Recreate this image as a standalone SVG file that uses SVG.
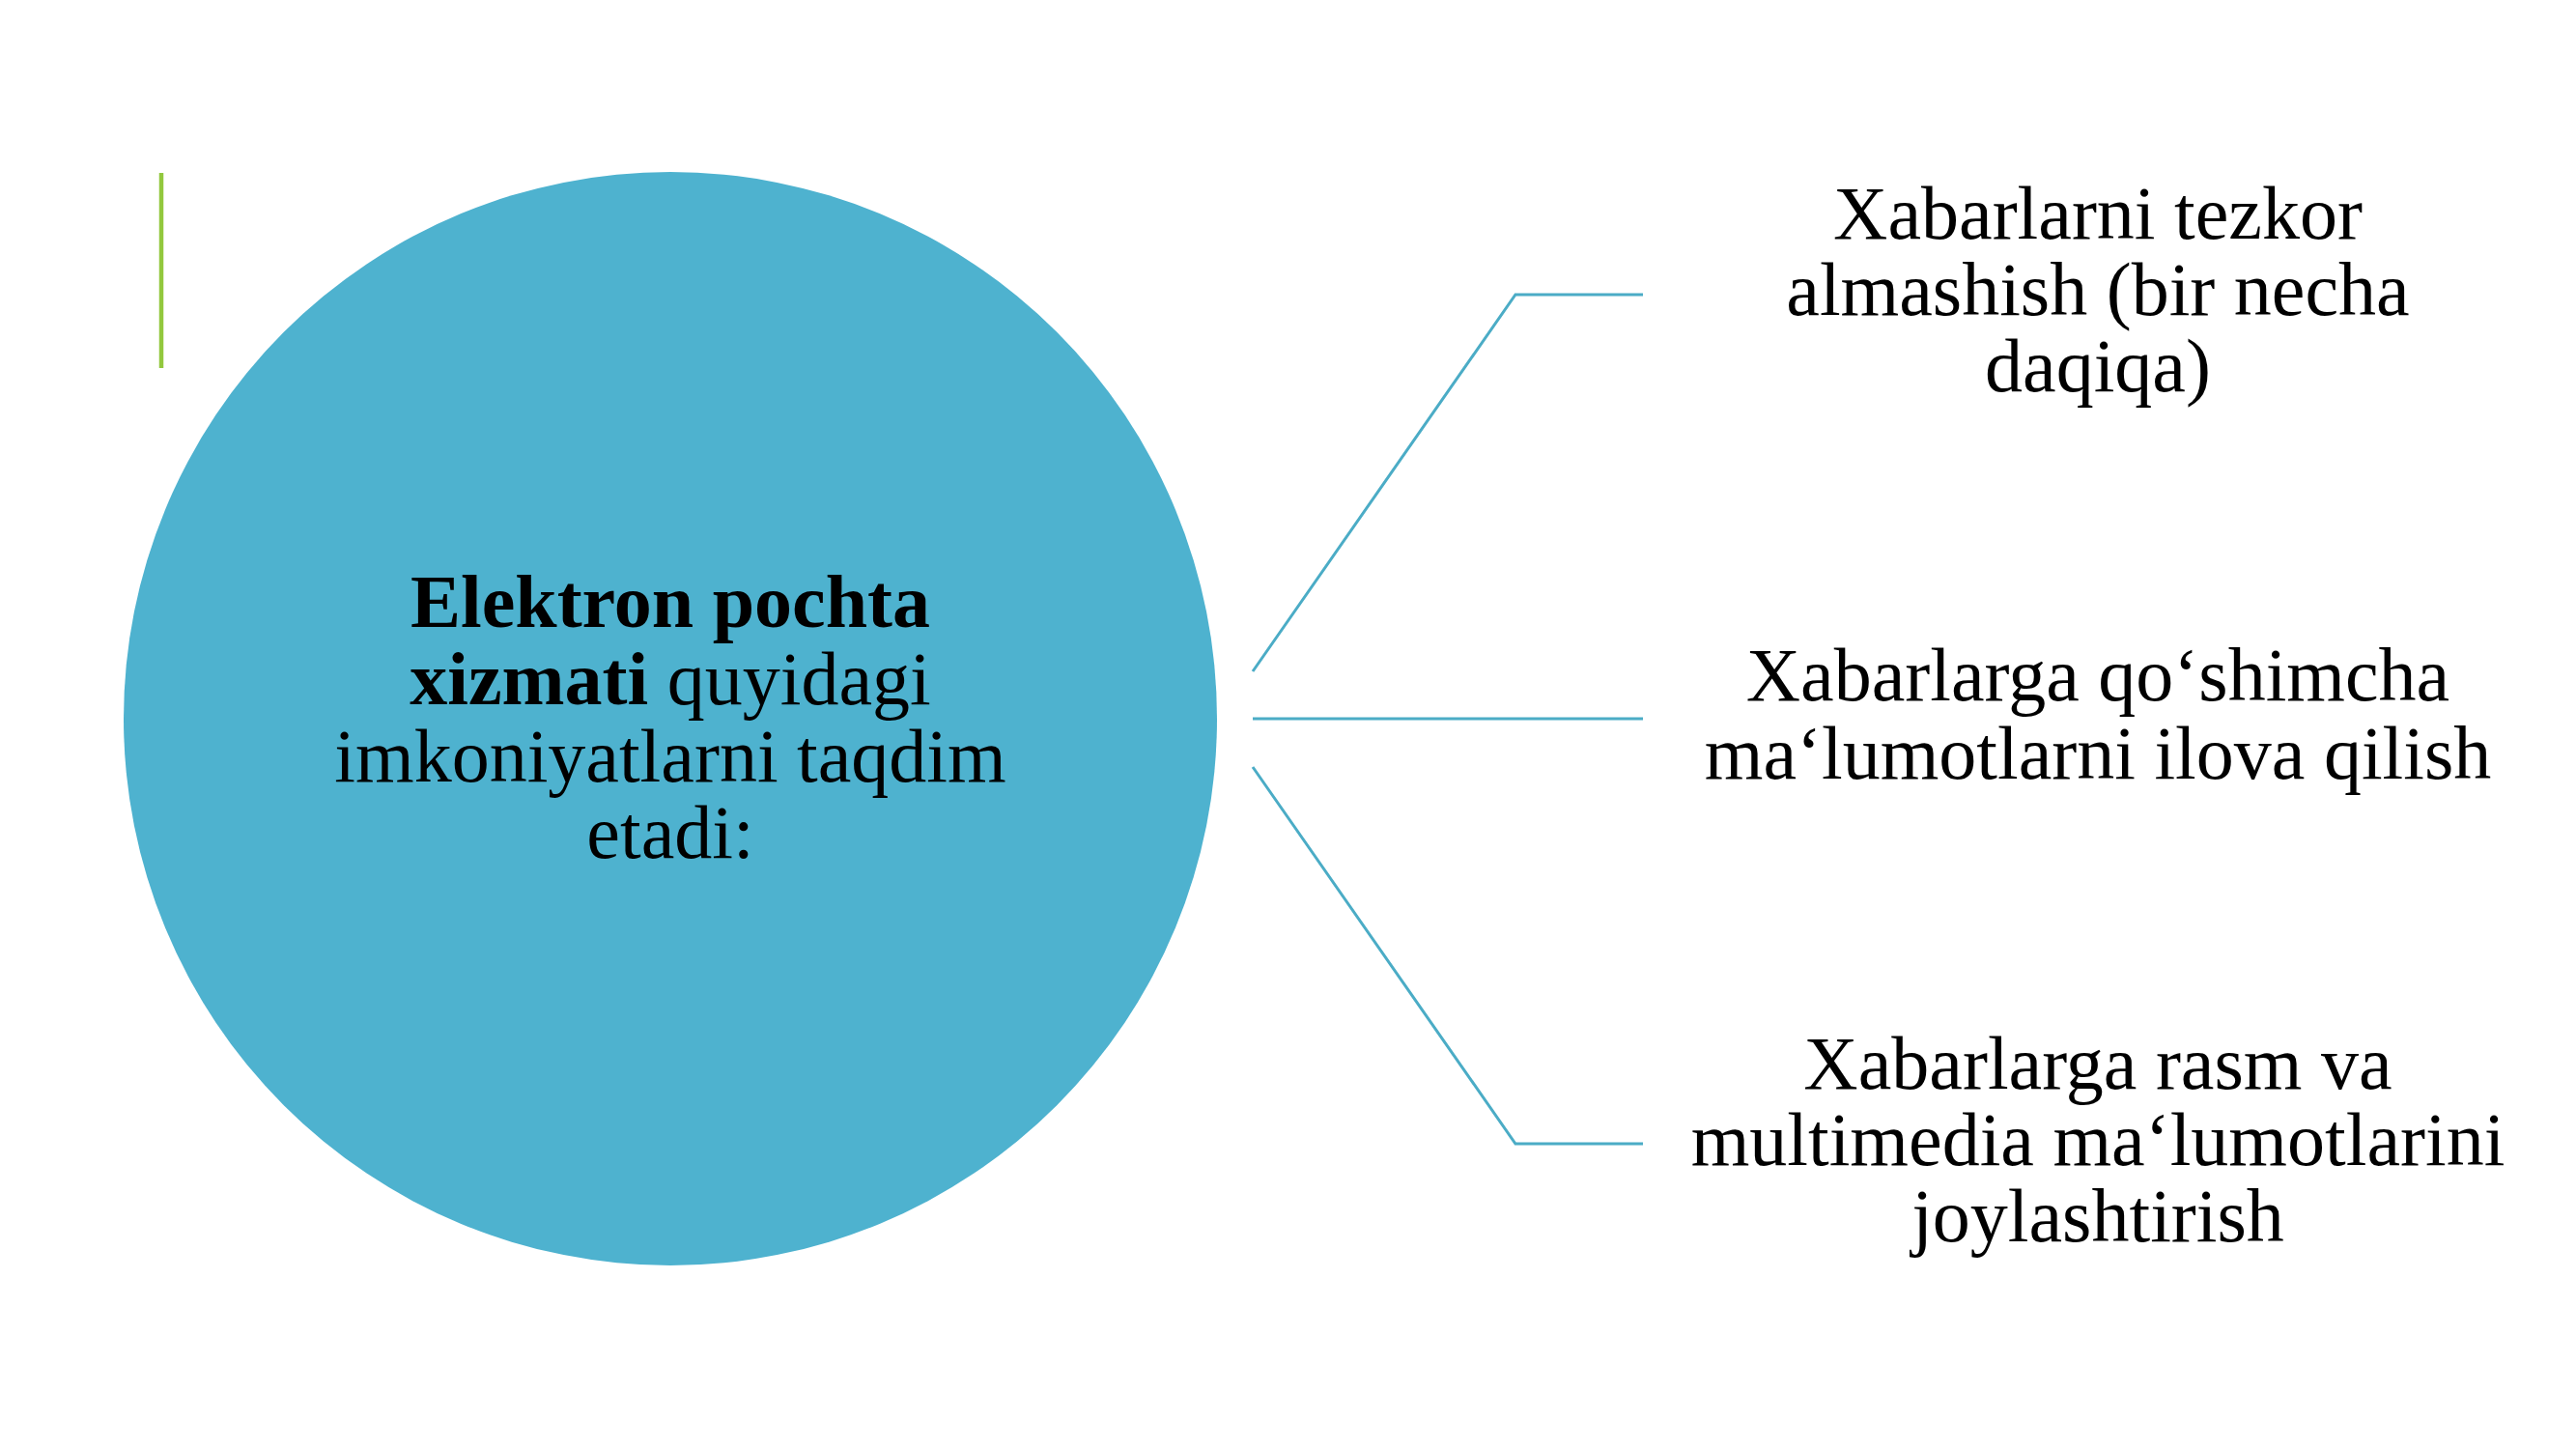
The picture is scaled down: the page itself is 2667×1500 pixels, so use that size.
<svg xmlns="http://www.w3.org/2000/svg" width="2667" height="1500" viewBox="0 0 2667 1500">
<style>
.t{font-family:"Liberation Serif","Times New Roman",serif;font-size:78px;fill:#000;text-anchor:middle}
.b{font-weight:bold}
.c{fill:none;stroke:#4bacc6;stroke-width:3}
</style>
<rect width="2667" height="1500" fill="#fff"/>
<line x1="167" y1="179" x2="167" y2="381" stroke="#92c83e" stroke-width="4.5"/>
<g id="center">
<circle cx="694" cy="744" r="566" fill="#4eb2cf"/>
<text class="t"><tspan class="b" x="694" y="649">Elektron pochta</tspan><tspan x="694" y="729"><tspan class="b">xizmati</tspan> quyidagi</tspan><tspan x="694" y="809">imkoniyatlarni taqdim</tspan><tspan x="694" y="888">etadi:</tspan></text>
</g>
<g id="connectors">
<path class="c" d="M1297,695 L1569,305 L1701,305"/>
<path class="c" d="M1297,744 L1701,744"/>
<path class="c" d="M1297,794 L1569,1184 L1701,1184"/>
</g>
<g id="item1">
<text class="t"><tspan x="2172" y="247">Xabarlarni tezkor</tspan><tspan x="2172" y="326">almashish (bir necha</tspan><tspan x="2172" y="405">daqiqa)</tspan></text>
</g>
<g id="item2">
<text class="t"><tspan x="2172" y="725">Xabarlarga qo‘shimcha</tspan><tspan x="2172" y="806">ma‘lumotlarni ilova qilish</tspan></text>
</g>
<g id="item3">
<text class="t"><tspan x="2172" y="1127">Xabarlarga rasm va</tspan><tspan x="2172" y="1206">multimedia ma‘lumotlarini</tspan><tspan x="2172" y="1285">joylashtirish</tspan></text>
</g>
</svg>
